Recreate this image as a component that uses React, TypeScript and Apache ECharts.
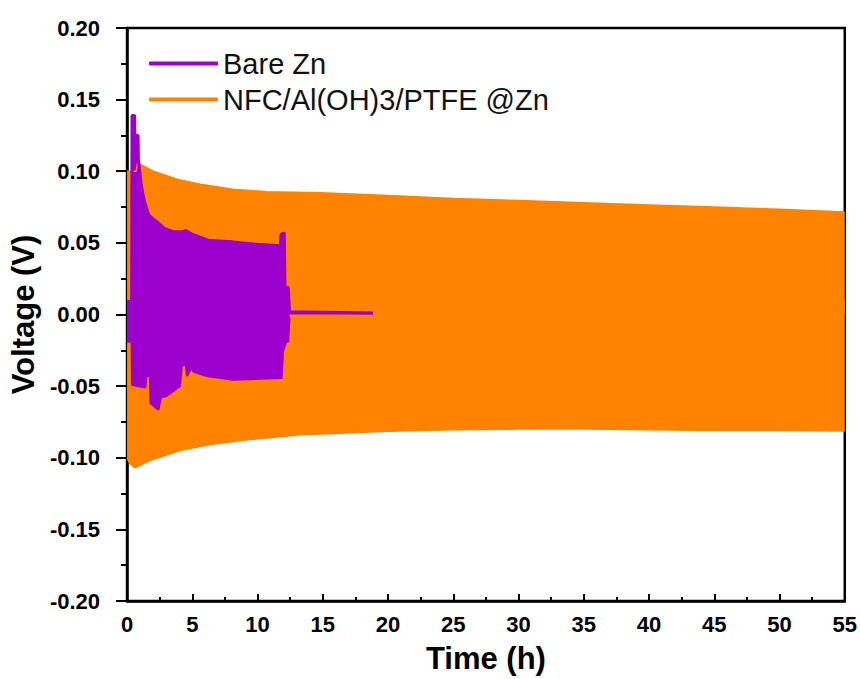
import React, { useEffect, useRef } from "react";
import * as echarts from "echarts";

// ---- Data ----
const seriesNames = ["Bare Zn", "NFC/Al(OH)3/PTFE @Zn"];

// NFC/Al(OH)3/PTFE @Zn: envelope of the voltage oscillation
const coatedUpperT = [0, 0.7, 0.8, 1.0, 2.0, 3.0, 4.0, 5.6, 8.1, 10.7, 14.8, 20, 25, 30, 35, 40, 45, 50, 55];
const coatedUpperV = [0.1, 0.1, 0.106, 0.105, 0.1, 0.097, 0.094, 0.091, 0.0875, 0.0857, 0.085, 0.083, 0.081, 0.0795, 0.078, 0.0765, 0.075, 0.0735, 0.0715];
const coatedLowerT = [0, 0.2, 0.6, 1.76, 4.06, 6.4, 9.4, 13.3, 15.8, 20, 25, 30, 35, 40, 45, 50, 55];
const coatedLowerV = [-0.1, -0.104, -0.107, -0.102, -0.095, -0.0907, -0.0873, -0.084, -0.083, -0.0815, -0.0805, -0.08, -0.08, -0.0805, -0.081, -0.081, -0.0813];

// Bare Zn: envelope of the voltage oscillation, then short-circuit flat line
const bareUpperT = [0, 0.35, 0.38, 0.58, 0.6, 0.85, 0.87, 1.1, 1.3, 1.6, 1.7, 2.1, 2.3, 2.9, 3.5, 4.2, 4.5, 5.0, 5.6, 6.3, 8.1, 10.0, 11.75, 11.8, 12.05, 12.1, 12.35, 12.45, 18.85];
const bareUpperV = [0.009, 0.009, 0.139, 0.139, 0.125, 0.125, 0.108, 0.09, 0.08, 0.071, 0.069, 0.066, 0.0646, 0.06, 0.058, 0.0576, 0.0586, 0.056, 0.054, 0.0516, 0.0507, 0.049, 0.048, 0.056, 0.057, 0.019, 0.019, 0.002, 0.001];
const bareLowerT = [0, 0.35, 0.38, 0.75, 1.4, 1.5, 1.75, 1.8, 2.4, 2.6, 3.0, 4.06, 4.2, 4.5, 4.6, 4.9, 5.1, 6.1, 8.1, 11.85, 11.95, 12.2, 12.35, 12.45];
const bareLowerV = [-0.019, -0.019, -0.049, -0.05, -0.051, -0.043, -0.043, -0.062, -0.0665, -0.058, -0.057, -0.05, -0.036, -0.035, -0.043, -0.0375, -0.04, -0.043, -0.0456, -0.0444, -0.026, -0.019, -0.019, -0.002];

const xMin = 0, xMax = 55, xStep = 5;
const yMin = -0.2, yMax = 0.2, yStep = 0.05;

const ORANGE = "#FF8200";
const PURPLE = "#9B00CC";
const FONT = "'Liberation Sans', Arial, Helvetica, sans-serif";

const pairs = (t: number[], v: number[]) => t.map((x, i) => [x, v[i]]);

export default function App() {
  const ref = useRef<HTMLDivElement>(null);
  useEffect(() => {
    if (!ref.current) return;
    const chart = echarts.init(ref.current, undefined, { renderer: "svg" });
    const envelope = (name: string, data: number[][], color: string, width: number, origin: any) => ({
      name,
      type: "line",
      data,
      symbol: "none",
      color,
      lineStyle: { color, width },
      areaStyle: { color, opacity: 1, origin },
      emphasis: { disabled: true },
    });
    chart.setOption({
      animation: false,
      backgroundColor: "#ffffff",
      grid: {
        left: 127,
        right: 15,
        top: 28,
        bottom: 75,
        show: true,
        borderColor: "#000",
        borderWidth: 2.5,
        backgroundColor: "transparent",
      },
      legend: {
        data: seriesNames.map((n, i) => ({
          name: n,
          icon: "roundRect",
          itemStyle: { color: i === 0 ? PURPLE : ORANGE },
        })),
        orient: "vertical",
        left: 144,
        top: 44,
        itemWidth: 69,
        itemHeight: 4,
        itemGap: 7,
        textStyle: { fontFamily: FONT, fontSize: 29, color: "#111" },
      },
      xAxis: {
        type: "value",
        min: xMin,
        max: xMax,
        interval: xStep,
        name: "Time (h)",
        nameLocation: "middle",
        nameGap: 42,
        nameTextStyle: { fontFamily: FONT, fontSize: 31, fontWeight: "bold", color: "#000" },
        axisLine: { show: true, onZero: false, lineStyle: { color: "#000", width: 2.5 } },
        axisTick: { show: true, inside: true, length: 7, lineStyle: { color: "#000", width: 2 } },
        minorTick: { show: true, splitNumber: 2, length: 4, lineStyle: { color: "#000", width: 2 } },
        splitLine: { show: false },
        axisLabel: {
          fontFamily: FONT,
          fontSize: 22,
          fontWeight: "bold",
          color: "#000",
          margin: 12,
        },
      },
      yAxis: {
        type: "value",
        min: yMin,
        max: yMax,
        interval: yStep,
        name: "Voltage (V)",
        nameLocation: "middle",
        nameGap: 81,
        nameTextStyle: { fontFamily: FONT, fontSize: 31, fontWeight: "bold", color: "#000" },
        axisLine: { show: true, onZero: false, lineStyle: { color: "#000", width: 2.5 } },
        axisTick: { show: true, inside: false, length: 11, lineStyle: { color: "#000", width: 2 } },
        minorTick: { show: true, splitNumber: 2, length: 6, lineStyle: { color: "#000", width: 2 } },
        splitLine: { show: false },
        axisLabel: {
          fontFamily: FONT,
          fontSize: 22,
          fontWeight: "bold",
          color: "#000",
          margin: 27,
          formatter: (v: number) => v.toFixed(2),
        },
      },
      series: [
        envelope(seriesNames[1], pairs(coatedUpperT, coatedUpperV), ORANGE, 1.5, "auto"),
        envelope(seriesNames[1], pairs(coatedLowerT, coatedLowerV), ORANGE, 1.5, 0.01),
        envelope(seriesNames[0], pairs(bareUpperT, bareUpperV), PURPLE, 3, "auto"),
        envelope(seriesNames[0], pairs(bareLowerT, bareLowerV), PURPLE, 2, 0.002),
      ],
    });
    return () => chart.dispose();
  }, []);
  return (
    <div
      ref={ref}
      style={{ position: "fixed", left: 0, top: 0, width: 860, height: 679, background: "#fff" }}
    />
  );
}
